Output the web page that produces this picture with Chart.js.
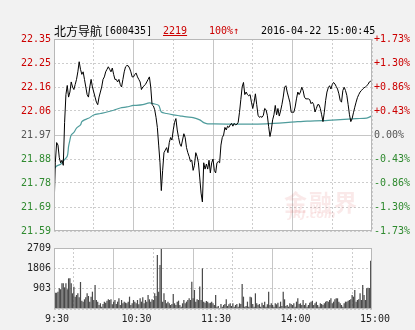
<!DOCTYPE html>
<html>
<head>
<meta charset="utf-8">
<script src="https://cdn.jsdelivr.net/npm/chart.js@4.4.1/dist/chart.umd.min.js"></script>
<style>
  body { margin: 0; width: 415px; height: 330px; overflow: hidden; background: #f2f2f2; position: relative; }
  #priceCanvas { position: absolute; left: 0; top: 0; }
  #volCanvas { position: absolute; left: 0; top: 238px; }
  .hd { position: absolute; top: 24px; line-height: 14px; font-size: 10px; font-family: 'DejaVu Sans Mono', monospace; white-space: nowrap; }
  .cn { font-family: 'Noto Sans CJK SC', sans-serif; font-size: 12px; }
  .red { color: #cc0000; }
  .wm { position: absolute; left: 284px; top: 184px; font-family: 'Noto Sans CJK SC', sans-serif; font-weight: bold; font-size: 23px; color: rgba(210, 70, 70, 0.12); letter-spacing: 2px; }
  .wm2 { position: absolute; left: 289px; top: 208px; font-family: 'DejaVu Sans', sans-serif; font-weight: bold; font-style: italic; font-size: 11px; color: rgba(210, 70, 70, 0.12); }
</style>
</head>
<body>
<canvas id="priceCanvas" width="415" height="240"></canvas>
<canvas id="volCanvas" width="415" height="92"></canvas>
<div class="hd cn" style="left:54px">北方导航</div>
<div class="hd" style="left:104px">[600435]</div>
<div class="hd red" style="left:163px;text-decoration:underline">2219</div>
<div class="hd red" style="left:209px">100%↑</div>
<div class="hd" style="left:261px">2016-04-22 15:00:45</div>
<div class="wm">金融界</div>
<div class="wm2">JRJ.com</div>
<script>
// 分时价格（每分钟，9:30 - 15:00）
var prices = [
  21.67, 21.86, 21.94, 21.93, 21.88, 21.86, 21.87, 21.85, 22.02, 22.13,
  22.166, 22.12, 22.14, 22.18, 22.16, 22.15, 22.17, 22.19, 22.22, 22.26,
  22.23, 22.21, 22.22, 22.19, 22.16, 22.13, 22.12, 22.16, 22.19, 22.16,
  22.14, 22.12, 22.10, 22.09, 22.12, 22.14, 22.16, 22.19, 22.20, 22.22,
  22.23, 22.24, 22.23, 22.22, 22.235, 22.21, 22.19, 22.19, 22.18, 22.19,
  22.17, 22.16, 22.19, 22.22, 22.24, 22.245, 22.244, 22.235, 22.22, 22.20,
  22.20, 22.21, 22.215, 22.20, 22.19, 22.18, 22.15, 22.16, 22.165, 22.17,
  22.18, 22.19, 22.20, 22.16, 22.09, 22.085, 22.07, 22.04, 22.00, 21.93,
  21.86, 21.75, 21.83, 21.90, 21.91, 21.92, 21.90, 21.94, 21.96, 21.95,
  21.99, 22.02, 22.035, 21.99, 21.96, 21.935, 21.925, 21.95, 21.975, 21.96,
  21.92, 21.90, 21.885, 21.865, 21.87, 21.83, 21.85, 21.90, 21.885, 21.86,
  21.80, 21.74, 21.705, 21.86, 21.835, 21.855, 21.835, 21.87, 21.82, 21.86,
  21.875, 21.83, 21.82, 21.86, 21.865, 21.86, 21.93, 21.96, 21.97, 22.00,
  21.99, 22.005, 22.00, 22.01, 22.016, 22.005, 22.016, 22.01, 22.012, 22.02,
  22.06, 22.11, 22.16, 22.178, 22.13, 22.14, 22.13, 22.125, 22.13, 22.10,
  22.075, 22.10, 22.133, 22.09, 22.048, 22.04, 22.043, 22.04, 22.048, 22.075,
  22.07, 22.048, 22.003, 21.964, 21.99, 22.03, 22.05, 22.087, 22.05, 22.075,
  22.045, 22.065, 22.09, 22.12, 22.159, 22.165, 22.14, 22.12, 22.10, 22.06,
  22.06, 22.06, 22.081, 22.113, 22.14, 22.13, 22.14, 22.159, 22.146, 22.12,
  22.113, 22.113, 22.113, 22.11, 22.094, 22.10, 22.09, 22.061, 22.075, 22.09,
  22.09, 22.075, 22.05, 22.023, 22.06, 22.107, 22.14, 22.157, 22.165, 22.152,
  22.17, 22.178, 22.172, 22.162, 22.152, 22.133, 22.107, 22.10, 22.146, 22.159,
  22.146, 22.127, 22.09, 22.05, 22.023, 22.035, 22.058, 22.08, 22.10, 22.118,
  22.13, 22.14, 22.146, 22.152, 22.157, 22.16, 22.165, 22.17, 22.18, 22.183,
  22.185
];

// 均价线
var avgMinutes = [0, 2, 5, 7, 10, 11, 12, 13, 15, 17, 20, 21, 23, 26, 30, 35, 40, 45, 50, 55,
  60, 62, 67, 72, 75, 79, 81, 85, 90, 95, 100, 105, 110, 113, 116, 121, 140, 160, 182, 191,
  203, 216, 228, 236, 240];
var avgPrices = [21.834, 21.847, 21.854, 21.867, 21.886, 21.925, 21.95, 21.97, 21.98, 21.997,
  22.01, 22.023, 22.03, 22.036, 22.049, 22.055, 22.061, 22.068, 22.077, 22.081,
  22.087, 22.087, 22.09, 22.097, 22.094, 22.087, 22.061, 22.055, 22.05, 22.046,
  22.042, 22.039, 22.03, 22.019, 22.014, 22.014, 22.013, 22.014, 22.022, 22.025,
  22.027, 22.031, 22.035, 22.037, 22.046];

// 成交量（手）
var volumes = [
  2353, 725, 725, 770, 918, 873, 1140, 1140, 962, 1140,
  873, 1362, 1362, 1140, 696, 992, 548, 622, 696, 518,
  1200, 370, 326, 430, 518, 696, 577, 326, 548, 770,
  400, 1065, 400, 326, 178, 252, 104, 222, 326, 281,
  370, 430, 400, 430, 207, 326, 400, 222, 326, 474,
  178, 400, 252, 326, 281, 252, 326, 548, 178, 252,
  400, 326, 252, 400, 207, 474, 326, 518, 252, 400,
  326, 622, 430, 326, 430, 400, 696, 577, 2400, 770,
  1950, 2665, 326, 696, 400, 252, 326, 252, 178, 222,
  666, 252, 178, 326, 370, 178, 104, 252, 400, 252,
  326, 400, 474, 400, 1214, 474, 844, 326, 430, 400,
  1000, 400, 1806, 326, 281, 355, 326, 252, 281, 326,
  252, 178, 622, 104, 133, 30, 222, 104, 178, 222,
  430, 133, 207, 252, 133, 252, 104, 178, 222, 104,
  252, 222, 1110, 548, 104, 133, 326, 104, 548, 518,
  222, 104, 696, 252, 178, 222, 104, 281, 178, 326,
  104, 207, 770, 178, 252, 178, 104, 252, 207, 281,
  104, 326, 133, 770, 430, 133, 178, 104, 252, 222,
  178, 252, 104, 326, 474, 222, 252, 178, 400, 178,
  252, 104, 178, 281, 326, 355, 178, 252, 326, 178,
  104, 252, 222, 178, 252, 326, 355, 326, 400, 474,
  252, 326, 430, 474, 474, 326, 252, 178, 104, 252,
  326, 326, 370, 400, 430, 622, 548, 844, 326, 400,
  430, 696, 400, 1065, 622, 400, 918, 947, 930, 2146
];

var priceTicks = [21.59, 21.685, 21.78, 21.875, 21.97, 22.065, 22.16, 22.255, 22.35];
var priceLabels = ['21.59', '21.69', '21.78', '21.88', '21.97', '22.06', '22.16', '22.25', '22.35'];
var pctLabels = ['-1.73%', '-1.30%', '-0.86%', '-0.43%', '0.00%', '+0.43%', '+0.86%', '+1.30%', '+1.73%'];
var gridMinutes = [0, 30, 60, 90, 120, 150, 180, 210, 240];
var timeLabels = ['9:30', '', '10:30', '', '11:30', '', '14:00', '', '15:00'];
var volTicks = [0, 903, 1806, 2709];
var volLabels = ['', '903', '1806', '2709'];

Chart.defaults.font.family = "'DejaVu Sans Mono', monospace";
Chart.defaults.font.size = 10;

function levelColor(i) {
  if (i > 4) return '#cc0000';
  if (i < 4) return '#2f8a2f';
  return '#555555';
}

// 白色绘图区和外框
var frame = {
  id: 'frame',
  beforeDraw: function (chart) {
    var a = chart.chartArea, ctx = chart.ctx;
    ctx.save();
    ctx.fillStyle = '#ffffff';
    ctx.fillRect(a.left, a.top, a.right - a.left, a.bottom - a.top);
    ctx.restore();
  },
  afterDraw: function (chart) {
    var a = chart.chartArea, ctx = chart.ctx;
    ctx.save();
    ctx.strokeStyle = '#b8b8b8';
    ctx.lineWidth = 1;
    ctx.strokeRect(Math.round(a.left) + 0.5, Math.round(a.top) + 0.5,
      Math.round(a.right - a.left) - 1, Math.round(a.bottom - a.top) - 1);
    ctx.restore();
  }
};

function timeAxis(showLabels) {
  return {
    type: 'linear',
    min: 0,
    max: 240,
    offset: false,
    afterBuildTicks: function (s) { s.ticks = gridMinutes.map(function (v) { return { value: v }; }); },
    afterFit: function (s) { s.height = showLabels ? 21 : 0; },
    grid: {
      drawTicks: false,
      color: function (c) { return [2, 4, 6].indexOf(c.index) >= 0 ? '#c6c6c6' : '#cdcdcd'; }
    },
    border: {
      display: false,
      dash: function (c) { return [2, 4, 6].indexOf(c.index) >= 0 ? [] : [2, 2]; }
    },
    ticks: {
      display: showLabels,
      padding: 4,
      labelOffset: 3,
      color: '#222222',
      maxRotation: 0,
      autoSkip: false,
      callback: function (v, i) { return timeLabels[i]; }
    }
  };
}

var minutes = prices.map(function (p, i) { return i; });

new Chart(document.getElementById('priceCanvas'), {
  type: 'line',
  data: {
    datasets: [{
      data: minutes.map(function (m, i) { return { x: m, y: prices[i] }; }),
      borderColor: '#000000',
      borderWidth: 1,
      pointRadius: 0,
      tension: 0
    }, {
      data: avgMinutes.map(function (m, i) { return { x: m, y: avgPrices[i] }; }),
      borderColor: '#4f9c9c',
      borderWidth: 1.2,
      pointRadius: 0,
      tension: 0.3
    }]
  },
  options: {
    responsive: false,
    animation: false,
    layout: { padding: { top: 39, bottom: 6, left: 0, right: 0 } },
    plugins: { legend: { display: false }, tooltip: { enabled: false } },
    scales: {
      x: timeAxis(false),
      y: {
        position: 'left',
        min: 21.59,
        max: 22.35,
        afterBuildTicks: function (s) { s.ticks = priceTicks.map(function (v) { return { value: v }; }); },
        afterFit: function (s) { s.width = 54; },
        grid: {
          drawTicks: false,
          color: function (c) { return c.index === 4 ? '#c6c6c6' : '#cdcdcd'; }
        },
        border: {
          display: false,
          dash: function (c) { return c.index === 4 ? [] : [2, 2]; }
        },
        ticks: {
          padding: 3,
          color: function (c) { return levelColor(c.index); },
          callback: function (v, i) { return priceLabels[i]; }
        }
      },
      y2: {
        position: 'right',
        min: 21.59,
        max: 22.35,
        afterBuildTicks: function (s) { s.ticks = priceTicks.map(function (v) { return { value: v }; }); },
        afterFit: function (s) { s.width = 43; },
        grid: { drawOnChartArea: false, drawTicks: false },
        border: { display: false },
        ticks: {
          padding: 2,
          color: function (c) { return levelColor(c.index); },
          callback: function (v, i) { return pctLabels[i]; }
        }
      }
    }
  },
  plugins: [frame]
});

new Chart(document.getElementById('volCanvas'), {
  type: 'bar',
  data: {
    datasets: [{
      data: volumes.map(function (v, i) { return { x: i, y: v }; }),
      backgroundColor: '#4a4a4a',
      barPercentage: 0.92,
      categoryPercentage: 1
    }]
  },
  options: {
    responsive: false,
    animation: false,
    layout: { padding: { top: 10, bottom: 0, left: 0, right: 43 } },
    plugins: { legend: { display: false }, tooltip: { enabled: false } },
    scales: {
      x: timeAxis(true),
      y: {
        min: 0,
        max: 2709,
        afterBuildTicks: function (s) { s.ticks = volTicks.map(function (v) { return { value: v }; }); },
        afterFit: function (s) { s.width = 54; },
        grid: { drawTicks: false, color: '#cdcdcd' },
        border: { display: false, dash: [2, 2] },
        ticks: {
          padding: 3,
          color: '#222222',
          callback: function (v, i) { return volLabels[i]; }
        }
      }
    }
  },
  plugins: [frame]
});
</script>
</body>
</html>
